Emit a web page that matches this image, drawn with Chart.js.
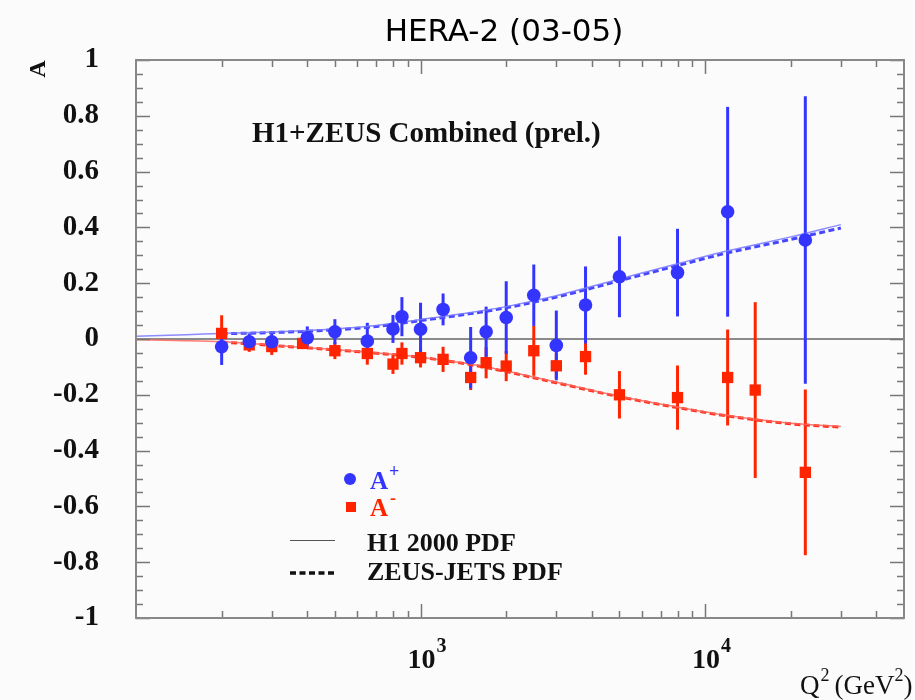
<!DOCTYPE html>
<html>
<head>
<meta charset="utf-8">
<title>HERA-2 (03-05)</title>
<script src="https://cdn.jsdelivr.net/npm/chart.js@4/dist/chart.umd.min.js"></script>
<style>
  html, body { margin: 0; padding: 0; background: #fff; }
  #grafico { display: block; }
</style>
</head>
<body>
<canvas id="grafico" width="915" height="700"></canvas>
<script>
// medidas A+ (e+p) e A- (e-p) em função de Q2
const q2Plus  = [200, 250, 300, 400, 500, 650, 800, 860, 1000, 1200, 1500, 1700, 2000, 2500, 3000, 3800, 5000, 8000, 12000, 22500];
const aPlus   = [-0.028, -0.01, -0.01, 0.005, 0.026, -0.007, 0.036, 0.08, 0.035, 0.106, -0.067, 0.026, 0.077, 0.157, -0.023, 0.122, 0.223, 0.238, 0.456, 0.355];
const errPlus = [0.065, 0.03, 0.03, 0.04, 0.045, 0.065, 0.05, 0.07, 0.095, 0.057, 0.11, 0.09, 0.13, 0.11, 0.125, 0.138, 0.145, 0.157, 0.376, 0.515];

const q2Minus  = [200, 250, 300, 385, 500, 650, 800, 860, 1000, 1200, 1500, 1700, 2000, 2500, 3000, 3800, 5000, 8000, 12000, 15000, 22500];
const aMinus   = [0.02, -0.021, -0.027, -0.016, -0.042, -0.052, -0.09, -0.052, -0.067, -0.073, -0.138, -0.085, -0.097, -0.042, -0.096, -0.063, -0.2, -0.21, -0.138, -0.183, -0.478];
const errMinus = [0.065, 0.025, 0.03, 0.02, 0.03, 0.04, 0.035, 0.04, 0.035, 0.045, 0.045, 0.056, 0.054, 0.09, 0.045, 0.065, 0.085, 0.115, 0.172, 0.315, 0.297];

// previsões teóricas
const q2H1    = [100, 150, 200, 300, 500, 700, 1000, 1500, 2000, 3000, 5000, 8000, 12000, 20000, 30000];
const h1Plus  = [0.01, 0.015, 0.02, 0.025, 0.036, 0.048, 0.07, 0.095, 0.116, 0.155, 0.215, 0.27, 0.316, 0.366, 0.41];
const h1Minus = [-0.003, -0.006, -0.01, -0.022, -0.038, -0.05, -0.065, -0.09, -0.115, -0.155, -0.205, -0.244, -0.274, -0.302, -0.314];

const q2Zeus    = [200, 300, 500, 700, 1000, 1500, 2000, 3000, 5000, 8000, 12000, 20000, 30000];
const zeusPlus  = [0.019, 0.023, 0.033, 0.045, 0.066, 0.091, 0.112, 0.15, 0.209, 0.263, 0.309, 0.357, 0.398];
const zeusMinus = [-0.011, -0.023, -0.039, -0.051, -0.066, -0.092, -0.117, -0.157, -0.207, -0.246, -0.276, -0.304, -0.316];

// marcas dos eixos
const xMinorTicks = [200, 300, 400, 500, 600, 700, 800, 900, 2000, 3000, 4000, 5000, 6000, 7000, 8000, 9000, 20000, 30000, 40000];
const xMajorTicks = [1000, 10000];
const xTickExps   = ['3', '4'];

const AZUL = 'rgb(52, 52, 255)';
const VERMELHO = 'rgb(255, 36, 0)';
const SERIF = '"Liberation Serif", "DejaVu Serif", serif';

const pontos = (xs, ys) => xs.map((x, i) => ({ x, y: ys[i] }));

// texto com expoente (ex.: 10^3)
function textoSup(ctx, partes, x, y) {
  let cx = x;
  partes.forEach(p => {
    ctx.font = p.font;
    ctx.fillText(p.t, cx, y + (p.dy || 0));
    cx += ctx.measureText(p.t).width + (p.gap || 0);
  });
}

const moldura = {
  id: 'moldura',
  beforeDraw(chart) {
    const { ctx, width, height } = chart;
    ctx.save();
    ctx.fillStyle = '#fbfbfb';
    ctx.fillRect(0, 0, width, height);
    ctx.restore();
  },
  beforeDatasetsDraw(chart) {
    const { ctx, chartArea: a, scales: { x, y } } = chart;
    ctx.save();
    // linha do zero
    ctx.strokeStyle = '#666';
    ctx.lineWidth = 1.5;
    ctx.beginPath();
    ctx.moveTo(a.left, y.getPixelForValue(0));
    ctx.lineTo(a.right, y.getPixelForValue(0));
    ctx.stroke();

    // barras de erro
    const barras = (xs, ys, es, cor) => {
      ctx.strokeStyle = cor;
      ctx.lineWidth = 3;
      xs.forEach((q, i) => {
        const px = x.getPixelForValue(q);
        ctx.beginPath();
        ctx.moveTo(px, y.getPixelForValue(ys[i] + es[i]));
        ctx.lineTo(px, y.getPixelForValue(ys[i] - es[i]));
        ctx.stroke();
      });
    };
    barras(q2Minus, aMinus, errMinus, VERMELHO);
    barras(q2Plus, aPlus, errPlus, AZUL);
    ctx.restore();
  },
  afterDraw(chart) {
    const { ctx, chartArea: a, scales: { x, y } } = chart;
    ctx.save();

    // ticks internos
    ctx.strokeStyle = '#777';
    ctx.lineWidth = 1.5;
    ctx.beginPath();
    const xt = (v, len) => {
      const px = Math.round(x.getPixelForValue(v)) + 0.5;
      ctx.moveTo(px, a.bottom); ctx.lineTo(px, a.bottom - len);
      ctx.moveTo(px, a.top); ctx.lineTo(px, a.top + len);
    };
    xMinorTicks.forEach(v => xt(v, 7));
    xMajorTicks.forEach(v => xt(v, 14));
    for (let k = -20; k <= 20; k++) {
      const v = k * 0.05;
      const len = k % 4 === 0 ? 14 : 7;
      const py = Math.round(y.getPixelForValue(v)) + 0.5;
      ctx.moveTo(a.left, py); ctx.lineTo(a.left + len, py);
      ctx.moveTo(a.right, py); ctx.lineTo(a.right - len, py);
    }
    ctx.stroke();

    // moldura
    ctx.strokeStyle = '#888';
    ctx.lineWidth = 2;
    ctx.strokeRect(a.left, a.top, a.right - a.left, a.bottom - a.top);

    // rótulos do eixo x (10^3, 10^4)
    ctx.fillStyle = '#111';
    ctx.textBaseline = 'alphabetic';
    ctx.textAlign = 'left';
    xMajorTicks.forEach((v, i) => {
      const px = x.getPixelForValue(v);
      textoSup(ctx, [
        { t: '10', font: 'bold 28px ' + SERIF, gap: 1 },
        { t: xTickExps[i], font: 'bold 20px ' + SERIF, dy: -16 }
      ], px - 13, 668);
    });

    // título do eixo x
    textoSup(ctx, [
      { t: 'Q', font: '27px ' + SERIF, gap: 1 },
      { t: '2', font: '18px ' + SERIF, dy: -13, gap: 5 },
      { t: '(GeV', font: '27px ' + SERIF },
      { t: '2', font: '18px ' + SERIF, dy: -13 },
      { t: ')', font: '27px ' + SERIF }
    ], 800, 694);

    // título do eixo y
    ctx.save();
    ctx.translate(45, 69);
    ctx.rotate(-Math.PI / 2);
    ctx.font = 'bold 24px ' + SERIF;
    ctx.textAlign = 'center';
    ctx.fillText('A', 0, 0);
    ctx.restore();

    // título geral
    ctx.font = '31px "DejaVu Sans", sans-serif';
    ctx.textAlign = 'center';
    ctx.fillStyle = '#000';
    ctx.fillText('HERA-2 (03-05)', 504, 41);

    // rótulo interno
    ctx.textAlign = 'left';
    ctx.font = 'bold 29px ' + SERIF;
    ctx.fillStyle = '#111';
    ctx.fillText('H1+ZEUS Combined (prel.)', 252, 142);

    // legenda
    ctx.fillStyle = AZUL;
    ctx.beginPath();
    ctx.arc(350, 479, 6, 0, Math.PI * 2);
    ctx.fill();
    textoSup(ctx, [
      { t: 'A', font: 'bold 25px ' + SERIF, gap: 1 },
      { t: '+', font: 'bold 18px ' + SERIF, dy: -12 }
    ], 370, 489);

    ctx.fillStyle = VERMELHO;
    ctx.fillRect(346, 502, 10, 10);
    textoSup(ctx, [
      { t: 'A', font: 'bold 25px ' + SERIF, gap: 2 },
      { t: '-', font: 'bold 18px ' + SERIF, dy: -12 }
    ], 370, 516);

    ctx.strokeStyle = '#555';
    ctx.lineWidth = 1;
    ctx.beginPath();
    ctx.moveTo(290, 540.5); ctx.lineTo(335, 540.5);
    ctx.stroke();
    ctx.strokeStyle = '#111';
    ctx.lineWidth = 3.5;
    ctx.setLineDash([6, 3.5]);
    ctx.beginPath();
    ctx.moveTo(290, 573); ctx.lineTo(336, 573);
    ctx.stroke();
    ctx.setLineDash([]);

    ctx.fillStyle = '#111';
    ctx.font = 'bold 26px ' + SERIF;
    ctx.fillText('H1 2000 PDF', 367, 551);
    ctx.fillText('ZEUS-JETS PDF', 367, 580);

    ctx.restore();
  }
};

const ctx = document.getElementById('grafico').getContext('2d');
new Chart(ctx, {
  type: 'scatter',
  data: {
    datasets: [
      {
        label: 'A+',
        data: pontos(q2Plus, aPlus),
        pointStyle: 'circle',
        pointRadius: 6.8,
        backgroundColor: AZUL,
        borderWidth: 0
      },
      {
        label: 'A-',
        data: pontos(q2Minus, aMinus),
        pointStyle: 'rect',
        pointRadius: 8,
        backgroundColor: VERMELHO,
        borderWidth: 0
      },
      {
        label: 'H1 2000 PDF (A+)',
        data: pontos(q2H1, h1Plus),
        showLine: true,
        pointRadius: 0,
        borderColor: 'rgba(120, 120, 255, 0.85)',
        borderWidth: 1.5,
        cubicInterpolationMode: 'monotone'
      },
      {
        label: 'ZEUS-JETS PDF (A+)',
        data: pontos(q2Zeus, zeusPlus),
        showLine: true,
        pointRadius: 0,
        borderColor: 'rgb(70, 70, 255)',
        borderWidth: 3,
        borderDash: [6, 3.5],
        cubicInterpolationMode: 'monotone'
      },
      {
        label: 'H1 2000 PDF (A-)',
        data: pontos(q2H1, h1Minus),
        showLine: true,
        pointRadius: 0,
        borderColor: 'rgba(255, 100, 90, 0.85)',
        borderWidth: 1.5,
        cubicInterpolationMode: 'monotone'
      },
      {
        label: 'ZEUS-JETS PDF (A-)',
        data: pontos(q2Zeus, zeusMinus),
        showLine: true,
        pointRadius: 0,
        borderColor: 'rgb(255, 50, 30)',
        borderWidth: 3,
        borderDash: [6, 3.5],
        cubicInterpolationMode: 'monotone'
      }
    ]
  },
  options: {
    responsive: false,
    animation: false,
    devicePixelRatio: 1,
    events: [],
    layout: { padding: { top: 60, right: 11, left: 0, bottom: 0 } },
    plugins: {
      legend: { display: false },
      tooltip: { enabled: false }
    },
    scales: {
      x: {
        type: 'logarithmic',
        min: 100,
        max: 50000,
        grid: { display: false },
        border: { display: false },
        ticks: { display: false },
        afterFit: s => { s.height = 82; }
      },
      y: {
        min: -1,
        max: 1,
        grid: { display: false },
        border: { display: false },
        ticks: {
          stepSize: 0.2,
          padding: 29,
          color: '#111',
          font: { family: SERIF, size: 29, weight: 'bold' },
          callback: v => {
            const r = Math.round(v * 10) / 10;
            return r === 0 ? '0' : String(r);
          }
        },
        afterFit: s => { s.width = 136; }
      }
    }
  },
  plugins: [moldura]
});
</script>
</body>
</html>
